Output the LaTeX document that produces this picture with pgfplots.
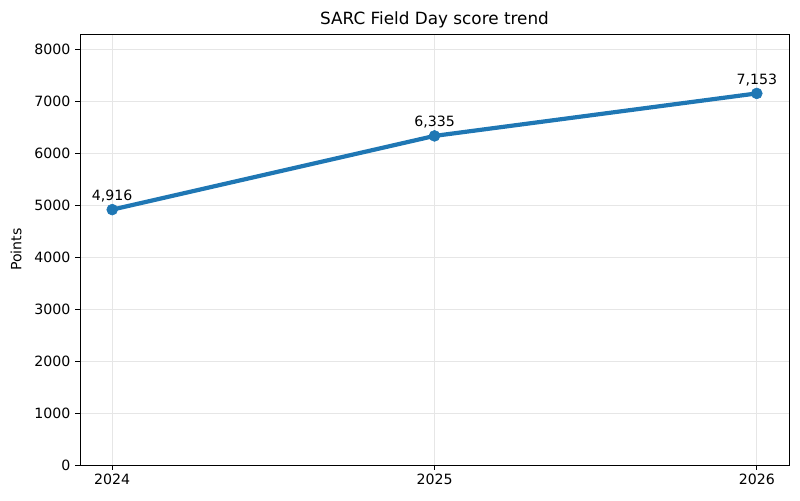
\documentclass[border=0pt]{standalone}
\usepackage{pgfplots}
\pgfplotsset{compat=1.18}
\usepackage{fontspec}
\setmainfont{DejaVu Sans}
\definecolor{mplblue}{HTML}{1F77B4}
\definecolor{gridgray}{HTML}{E6E6E6}
\begin{document}
\begin{tikzpicture}[x=1bp,y=1bp]
\useasboundingbox (0,0) rectangle (800,501);
\begin{axis}[
  at={(80bp,36bp)}, anchor=south west,
  scale only axis, width=709bp, height=431bp,
  xmin=2023.9, xmax=2026.1,
  ymin=0, ymax=8297,
  xtick={2024,2025,2026},
  ytick={0,1000,...,8000},
  /pgf/number format/assume math mode=true,
  /pgf/number format/1000 sep={},
  tick label style={font=\fontsize{14.2}{16}\selectfont, text=black},
  yticklabel style={xshift=-1bp},
  tick align=outside,
  major tick length=5bp,
  tick style={black, line width=0.8bp},
  xtick pos=bottom, ytick pos=left,
  grid=major,
  major grid style={gridgray, line width=0.8bp},
  axis line style={black, line width=0.8bp},
  title={SARC Field Day score trend},
  title style={font=\fontsize{16.9}{19}\selectfont, yshift=-3.5bp},
  ylabel={Points},
  ylabel style={font=\fontsize{14.2}{16}\selectfont, yshift=6bp},
  nodes near coords={\pgfmathprintnumber[1000 sep={,}]{\pgfplotspointmeta}},
  nodes near coords style={font=\fontsize{14.2}{16}\selectfont, text=black, yshift=4bp},
]
\addplot[mplblue, line width=4.2bp, mark=*, mark size=5.5bp,
  mark options={fill=mplblue, draw=mplblue, line width=0.5bp}]
  coordinates {(2024,4916) (2025,6335) (2026,7153)};
\end{axis}
\end{tikzpicture}
\end{document}
